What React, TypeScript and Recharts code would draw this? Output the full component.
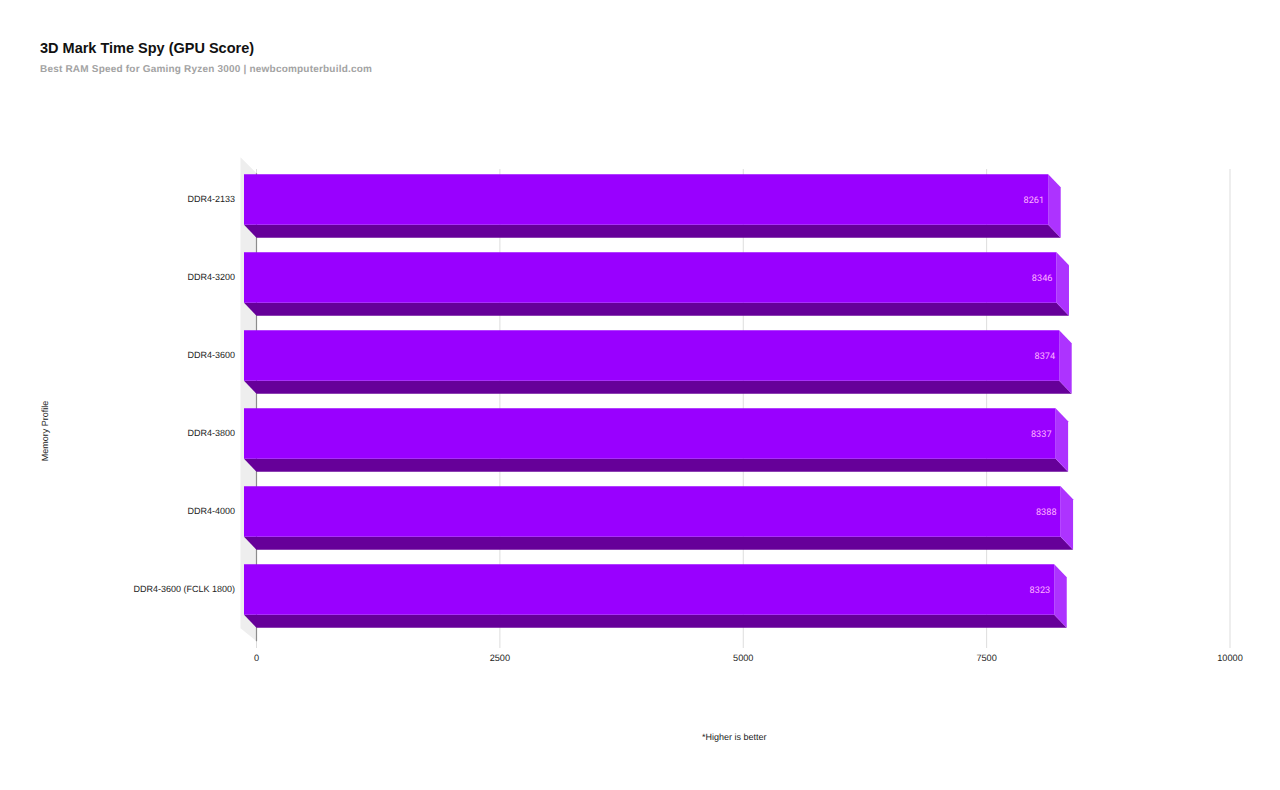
import { BarChart, Bar, XAxis, YAxis, CartesianGrid, LabelList, ReferenceArea } from 'recharts';

const profiles = ['DDR4-2133', 'DDR4-3200', 'DDR4-3600', 'DDR4-3800', 'DDR4-4000', 'DDR4-3600 (FCLK 1800)'];
const scores = [8261, 8346, 8374, 8337, 8388, 8323];
const xTicks = [0, 2500, 5000, 7500, 10000];

const rows = profiles.map((profile, i) => ({ profile, score: scores[i] }));

// profondeur de l'effet 3D
const DX = 12.5;
const DY = 13;

const Box3D = ({ x, y, width, height }: any) => {
  const r = x + width;
  const b = y + height;
  return (
    <g>
      <polygon points={`${x - DX},${b - DY} ${r - DX},${b - DY} ${r},${b} ${x},${b}`} fill="#660099" />
      <polygon points={`${r - DX},${y - DY} ${r},${y} ${r},${b} ${r - DX},${b - DY}`} fill="#ad33ff" />
      <rect x={x - DX} y={y - DY} width={width} height={height} fill="#9900ff" />
    </g>
  );
};

// paroi gauche + ligne de l'axe, sous les barres
const Wall = ({ x, y, height }: any) => (
  <g>
    <polygon
      points={`${x - 16},${y - 16} ${x},${y} ${x},${y + height} ${x - 16},${y + height - 13}`}
      fill="#eeeeee"
    />
    <line x1={x} y1={y} x2={x} y2={y + height} stroke="#8c8c8c" strokeWidth={1.2} />
  </g>
);

const ValueLabel = ({ x, y, width, height, value }: any) => (
  <text
    x={x + width - DX - 4}
    y={y + height / 2 - DY + 1}
    textAnchor="end"
    dominantBaseline="central"
    fontFamily="Roboto"
    fontSize={9.2}
    textRendering="geometricPrecision"
    fill="#ffb3ff"
  >
    {value}
  </text>
);

const ProfileTick = ({ x, y, payload }: any) => (
  <text
    x={x - 0.5}
    y={y - DY}
    textAnchor="end"
    dominantBaseline="central"
    fontFamily="Liberation Sans"
    fontSize={9}
    textRendering="geometricPrecision"
    fill="#222222"
  >
    {payload.value}
  </text>
);

const YTitle = () => (
  <text
    x={48}
    y={431}
    transform="rotate(-90 48 431)"
    textAnchor="middle"
    fontFamily="Liberation Sans"
    fontSize={9}
    textRendering="geometricPrecision"
    fill="#222222"
  >
    Memory Profile
  </text>
);

export default function App() {
  return (
    <div style={{ position: 'absolute', left: 0, top: 0, width: 1280, height: 790, background: '#ffffff' }}>
      <div style={{ position: 'absolute', left: 40, top: 40, fontFamily: 'Liberation Sans', fontWeight: 700, fontSize: 14.5, lineHeight: '17px', color: '#111111' }}>
        3D Mark Time Spy (GPU Score)
      </div>
      <div style={{ position: 'absolute', left: 40, top: 64, fontFamily: 'Liberation Sans', fontWeight: 700, fontSize: 10, lineHeight: '12px', letterSpacing: 0.2, color: '#a3a3a3', textRendering: 'geometricPrecision' }}>
        Best RAM Speed for Gaming Ryzen 3000 | newbcomputerbuild.com
      </div>
      <BarChart
        width={1280}
        height={790}
        data={rows}
        layout="vertical"
        barSize={50.5}
        margin={{ top: 169, right: 50, bottom: 0, left: 0 }}
      >
        <CartesianGrid horizontal={false} stroke="#dddddd" />
        <ReferenceArea x1={0} x2={10000} shape={<Wall />} ifOverflow="visible" />
        <XAxis
          type="number"
          dataKey="score"
          domain={[0, 10000]}
          ticks={xTicks}
          height={142}
          axisLine={false}
          tickLine={false}
          tickSize={0}
          tickMargin={6}
          tick={{ fontFamily: 'Liberation Sans', fontSize: 9.2, fill: '#222222', textRendering: 'geometricPrecision' }}
          label={{ value: '*Higher is better', position: 'insideBottom', offset: 50, dx: -9, fontFamily: 'Liberation Sans', fontSize: 9, fill: '#222222', textRendering: 'geometricPrecision' }}
        />
        <YAxis
          type="category"
          dataKey="profile"
          width={256.5}
          padding={{ top: 4.25, bottom: 6.75 }}
          axisLine={false}
          tickLine={false}
          tickMargin={21}
          tickSize={0}
          tick={<ProfileTick />}
          label={<YTitle />}
        />
        <Bar dataKey="score" shape={<Box3D />} isAnimationActive={false}>
          <LabelList dataKey="score" content={<ValueLabel />} />
        </Bar>
      </BarChart>
    </div>
  );
}
